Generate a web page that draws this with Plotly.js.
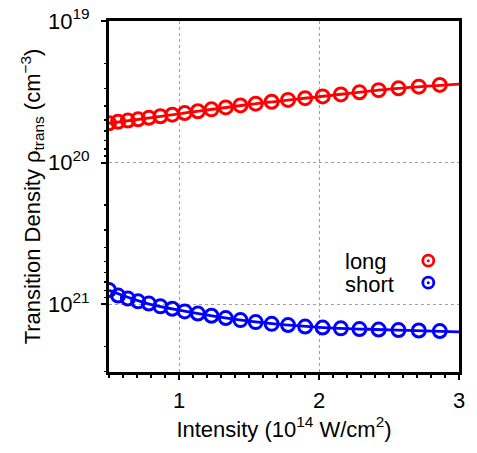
<!DOCTYPE html>
<html>
<head>
<meta charset="utf-8">
<script src="https://cdn.plot.ly/plotly-3.0.1.min.js"></script>
<style>html,body{margin:0;padding:0;background:#fff;}#chart{width:477px;height:453px;}</style>
</head>
<body>
<div id="chart"></div>
<script>
// Intensity (10^14 W/cm^2)
const intensity = [0.50, 0.565, 0.635, 0.708, 0.785, 0.867, 0.952, 1.041, 1.135, 1.232, 1.334, 1.439,
  1.548, 1.662, 1.779, 1.901, 2.026, 2.156, 2.289, 2.426, 2.568, 2.713, 2.863];
// Transition density (cm^-3)
const longDensity = [5.28e19, 5.15e19, 5.05e19, 4.95e19, 4.83e19, 4.71e19, 4.59e19, 4.47e19, 4.34e19, 4.21e19,
  4.08e19, 3.95e19, 3.84e19, 3.72e19, 3.61e19, 3.51e19, 3.41e19, 3.30e19, 3.19e19, 3.08e19, 2.99e19, 2.91e19, 2.83e19];
const shortDensity = [7.96e20, 8.71e20, 9.14e20, 9.57e20, 9.92e20, 1.038e21, 1.079e21, 1.127e21, 1.167e21, 1.210e21,
  1.256e21, 1.298e21, 1.341e21, 1.380e21, 1.407e21, 1.442e21, 1.466e21, 1.485e21, 1.502e21, 1.514e21, 1.527e21, 1.538e21, 1.551e21];
// fitted curves
const fitIntensity = [0.5, 0.75, 1.0, 1.5, 2.0, 2.5, 3.0];
const longFit = [5.28e19, 4.89e19, 4.53e19, 3.89e19, 3.43e19, 3.03e19, 2.79e19];
const shortFit = [8.0e20, 9.76e20, 1.105e21, 1.322e21, 1.461e21, 1.52e21, 1.57e21];
const seriesNames = ["long", "short"];
const xTickVals = [1, 2, 3];
const yTickVals = [1e19, 1e20, 1e21];
const yTickText = ["10<sup>19</sup>", "10<sup>20</sup>", "10<sup>21</sup>"];

const RED = "#ff0000", BLUE = "#0000ff";
const FONT = "Liberation Sans, Arial, Helvetica, sans-serif";
const FS = 22;

const traces = [
  {x: fitIntensity, y: longFit, mode: "lines", line: {color: RED, width: 2.8, shape: "spline"}, showlegend: false, hoverinfo: "skip"},
  {x: fitIntensity, y: shortFit, mode: "lines", line: {color: BLUE, width: 2.8, shape: "spline"}, showlegend: false, hoverinfo: "skip"},
  {x: intensity, y: longDensity, mode: "markers", name: seriesNames[0],
   marker: {symbol: "circle-open", size: 13, color: RED, line: {width: 3, color: RED}}, showlegend: false},
  {x: intensity, y: shortDensity, mode: "markers", name: seriesNames[1],
   marker: {symbol: "circle-open", size: 13, color: BLUE, line: {width: 3, color: BLUE}}, showlegend: false}
];

function legendSymbol(yc, color) {
  return [
    {type: "circle", xref: "paper", yref: "paper", xsizemode: "pixel", ysizemode: "pixel",
     xanchor: 0.9123, yanchor: yc, x0: -5.5, x1: 5.5, y0: -5.5, y1: 5.5,
     line: {color: color, width: 2.8}, fillcolor: "rgba(0,0,0,0)"},
    {type: "circle", xref: "paper", yref: "paper", xsizemode: "pixel", ysizemode: "pixel",
     xanchor: 0.9123, yanchor: yc, x0: -1.5, x1: 1.5, y0: -1.5, y1: 1.5,
     line: {color: color, width: 0}, fillcolor: color}
  ];
}

const layout = {
  width: 477, height: 453,
  margin: {l: 109, r: 18, t: 21, b: 81},
  paper_bgcolor: "#fff", plot_bgcolor: "#fff",
  font: {family: FONT, size: FS, color: "#000"},
  showlegend: false,
  xaxis: {
    range: [0.5, 3], tickvals: xTickVals, ticktext: xTickVals.map(String),
    showline: true, linecolor: "#000", linewidth: 3, mirror: true,
    ticks: "outside", ticklen: 5, tickwidth: 2, tickcolor: "#000",
    ticklabelstandoff: 2,
    minor: {dtick: 0.1, tick0: 0, ticks: "outside", ticklen: 2.5, tickwidth: 1.5, tickcolor: "#000", showgrid: false},
    showgrid: true, gridcolor: "#a0a0a0", gridwidth: 1, griddash: "dot",
    zeroline: false,
    title: {text: "Intensity (10<sup>14</sup> W/cm<sup>2</sup>)", font: {family: FONT, size: FS}, standoff: 3}
  },
  yaxis: {
    type: "log", range: [Math.log10(3.02e21), 19],
    tickvals: yTickVals, ticktext: yTickText,
    showline: true, linecolor: "#000", linewidth: 3, mirror: true,
    ticks: "outside", ticklen: 5, tickwidth: 2, tickcolor: "#000",
    ticklabelstandoff: 7,
    minor: {dtick: "D1", ticks: "outside", ticklen: 2.5, tickwidth: 1.5, tickcolor: "#000", showgrid: false},
    showgrid: true, gridcolor: "#a0a0a0", gridwidth: 1, griddash: "dot",
    zeroline: false,
    title: {text: "Transition Density ρ<sub>trans</sub> (cm<sup>−3</sup>)", font: {family: FONT, size: FS}, standoff: 2}
  },
  shapes: [].concat(legendSymbol(0.3171, RED), legendSymbol(0.2544, BLUE)),
  annotations: [
    {text: seriesNames[0], xref: "paper", yref: "paper", x: 0.6677, y: 0.3134, xanchor: "left", yanchor: "middle", showarrow: false, font: {family: FONT, size: FS}},
    {text: seriesNames[1], xref: "paper", yref: "paper", x: 0.6677, y: 0.2493, xanchor: "left", yanchor: "middle", showarrow: false, font: {family: FONT, size: FS}}
  ]
};

Plotly.newPlot("chart", traces, layout, {staticPlot: true, displayModeBar: false});
</script>
</body>
</html>
